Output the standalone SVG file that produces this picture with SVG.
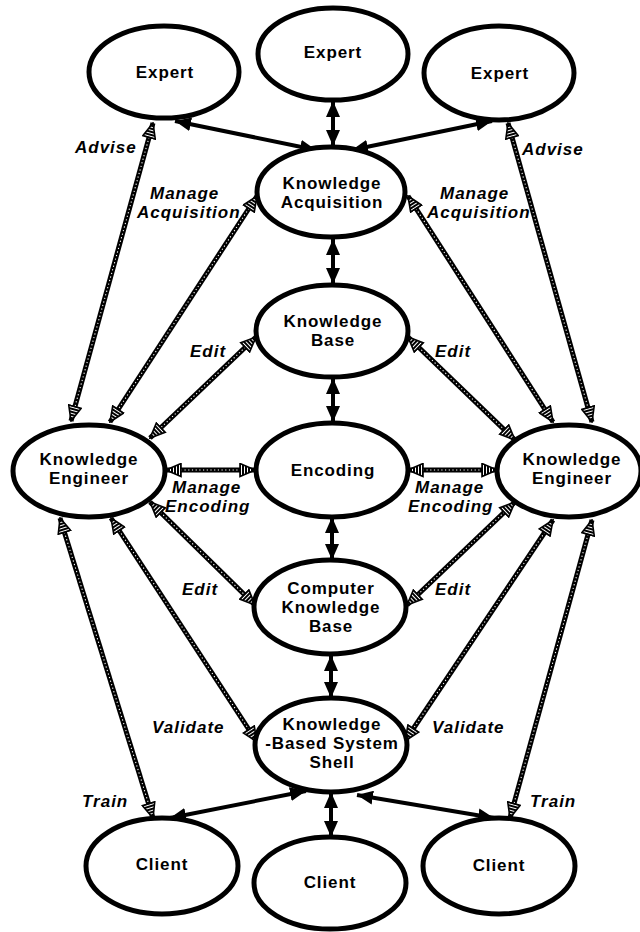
<svg xmlns="http://www.w3.org/2000/svg" width="640" height="932" viewBox="0 0 640 932">
<style>
.e{fill:#fff;stroke:#000;stroke-width:5}
.n{font-family:"Liberation Sans",Arial,sans-serif;font-weight:bold;font-size:17px;text-anchor:middle;fill:#000;letter-spacing:0.9px}
.l{font-family:"Liberation Sans",Arial,sans-serif;font-weight:bold;font-style:italic;font-size:17px;fill:#000;letter-spacing:1px}
.s{fill:none;stroke:#000;stroke-width:4;marker-start:url(#sa);marker-end:url(#sa)}
.h{fill:none;stroke:#000;stroke-width:5}
.hd{fill:none;stroke:#fff;stroke-width:1.1;stroke-dasharray:1.2 2.5;marker-start:url(#ha);marker-end:url(#ha)}
</style>
<defs>
<pattern id="hp" patternUnits="userSpaceOnUse" width="3" height="3">
<rect width="3" height="3" fill="#fff"/>
<rect width="2" height="3" fill="#000"/>
</pattern>
<marker id="ha" viewBox="0 0 17 15" refX="16" refY="7.5" markerWidth="17" markerHeight="15" markerUnits="userSpaceOnUse" orient="auto-start-reverse">
<path d="M1,1 L16,7.5 L1,14 z" fill="url(#hp)" stroke="#000" stroke-width="1.6"/>
</marker>
<marker id="sa" viewBox="0 0 16 14" refX="16" refY="7" markerWidth="16" markerHeight="14" markerUnits="userSpaceOnUse" orient="auto-start-reverse">
<path d="M0,0 L16,7 L0,14 z" fill="#000"/>
</marker>
</defs>
<rect width="640" height="932" fill="#fff"/>

<g id="connectors">
<path class="s" d="M175,121 L316,150"/>
<path class="s" d="M492,121 L352,150"/>
<path class="s" d="M333,101 L333,146"/>
<path class="s" d="M333,239 L333,284"/>
<path class="s" d="M333,378 L333,422"/>
<path class="s" d="M332,517 L332,560"/>
<path class="s" d="M331,655 L331,698"/>
<path class="s" d="M331,792 L331,837"/>
<path class="s" d="M306,791 L170,818"/>
<path class="s" d="M357,795 L494,818"/>

<g id="hatched">
<path class="h" d="M153,123 L71,421"/><path class="hd" d="M153,123 L71,421"/>
<path class="h" d="M257,196 L110,422"/><path class="hd" d="M257,196 L110,422"/>
<path class="h" d="M256,337 L150,438"/><path class="hd" d="M256,337 L150,438"/>
<path class="h" d="M166,470 L255,470"/><path class="hd" d="M166,470 L255,470"/>
<path class="h" d="M150,502 L255,605"/><path class="hd" d="M150,502 L255,605"/>
<path class="h" d="M111,518 L257,742"/><path class="hd" d="M111,518 L257,742"/>
<path class="h" d="M60,518 L153,818"/><path class="hd" d="M60,518 L153,818"/>
<path class="h" d="M508,123 L592,422"/><path class="hd" d="M508,123 L592,422"/>
<path class="h" d="M408,196 L553,422"/><path class="hd" d="M408,196 L553,422"/>
<path class="h" d="M408,337 L515,440"/><path class="hd" d="M408,337 L515,440"/>
<path class="h" d="M408,470 L497,470"/><path class="hd" d="M408,470 L497,470"/>
<path class="h" d="M515,502 L407,605"/><path class="hd" d="M515,502 L407,605"/>
<path class="h" d="M553,520 L405,741"/><path class="hd" d="M553,520 L405,741"/>
<path class="h" d="M592,520 L510,818"/><path class="hd" d="M592,520 L510,818"/>
</g>

<g id="labels">
<text class="l" x="75" y="153">Advise</text>
<text class="l" x="522" y="155">Advise</text>
<text class="l" x="150" y="199">Manage</text>
<text class="l" x="137" y="218">Acquisition</text>
<text class="l" x="440" y="199">Manage</text>
<text class="l" x="427" y="218">Acquisition</text>
<text class="l" x="190" y="357">Edit</text>
<text class="l" x="435" y="357">Edit</text>
<text class="l" x="172" y="493">Manage</text>
<text class="l" x="165" y="512">Encoding</text>
<text class="l" x="415" y="493">Manage</text>
<text class="l" x="408" y="512">Encoding</text>
<text class="l" x="182" y="595">Edit</text>
<text class="l" x="435" y="595">Edit</text>
<text class="l" x="152" y="733">Validate</text>
<text class="l" x="432" y="733">Validate</text>
<text class="l" x="82" y="807">Train</text>
<text class="l" x="530" y="807">Train</text>
</g>
</g>

<g id="expert-left"><ellipse class="e" cx="164" cy="72" rx="75" ry="46"/><text class="n" x="165" y="78">Expert</text></g>
<g id="expert-center"><ellipse class="e" cx="333" cy="54" rx="75" ry="46"/><text class="n" x="333" y="58">Expert</text></g>
<g id="expert-right"><ellipse class="e" cx="499" cy="73" rx="75" ry="47"/><text class="n" x="500" y="79">Expert</text></g>
<g id="knowledge-acquisition"><ellipse class="e" cx="331" cy="192" rx="74" ry="45"/><text class="n" x="332" y="189">Knowledge</text><text class="n" x="332" y="208">Acquisition</text></g>
<g id="knowledge-base"><ellipse class="e" cx="332" cy="331" rx="76" ry="46"/><text class="n" x="333" y="327">Knowledge</text><text class="n" x="333" y="346">Base</text></g>
<g id="knowledge-engineer-left"><ellipse class="e" cx="89" cy="471" rx="76" ry="46"/><text class="n" x="89" y="465">Knowledge</text><text class="n" x="89" y="484">Engineer</text></g>
<g id="encoding"><ellipse class="e" cx="332" cy="470" rx="76" ry="47"/><text class="n" x="333" y="476">Encoding</text></g>
<g id="knowledge-engineer-right"><ellipse class="e" cx="569" cy="471" rx="72" ry="46"/><text class="n" x="572" y="465">Knowledge</text><text class="n" x="572" y="484">Engineer</text></g>
<g id="computer-knowledge-base"><ellipse class="e" cx="330" cy="607" rx="76" ry="47"/><text class="n" x="331" y="594">Computer</text><text class="n" x="331" y="613">Knowledge</text><text class="n" x="331" y="632">Base</text></g>
<g id="kbs-shell"><ellipse class="e" cx="331" cy="745" rx="76" ry="47"/><text class="n" x="332" y="730">Knowledge</text><text class="n" x="332" y="749">-Based System</text><text class="n" x="332" y="768">Shell</text></g>
<g id="client-left"><ellipse class="e" cx="162" cy="866" rx="76" ry="48"/><text class="n" x="162" y="870">Client</text></g>
<g id="client-center"><ellipse class="e" cx="330" cy="883" rx="76" ry="46"/><text class="n" x="330" y="888">Client</text></g>
<g id="client-right"><ellipse class="e" cx="499" cy="866" rx="76" ry="48"/><text class="n" x="499" y="871">Client</text></g>
</svg>
